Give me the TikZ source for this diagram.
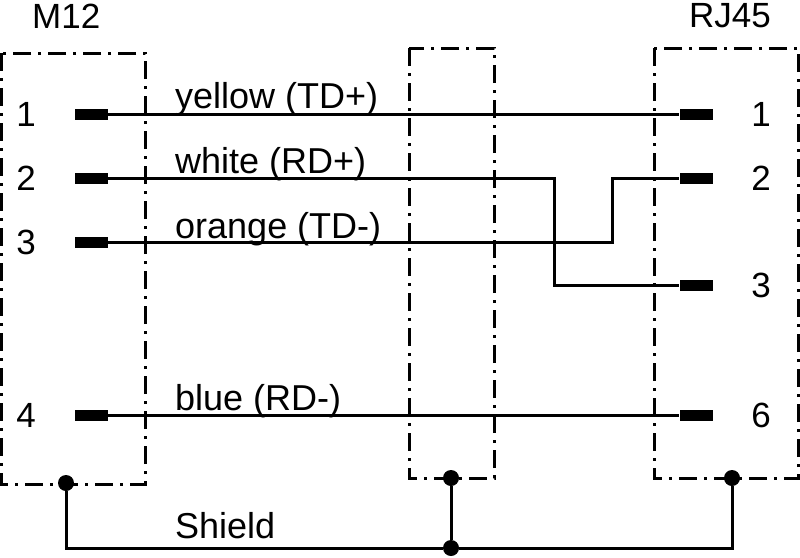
\documentclass[tikz,border=0pt]{standalone}
\usepackage{fontspec}
\setmainfont{Liberation Sans}
\newcommand{\myBox}[5]
{
    \draw[boxline] (#2,#3) rectangle (#4,#5);
    \coordinate (#1) at (#2,#3);
}
\tikzset{
    boxline/.style={line width=3pt, dash pattern=on 18pt off 7pt on 3pt off 7pt},
    wire/.style={line width=3pt, line join=miter},
    pad/.style={fill=black, minimum width=33pt, minimum height=11pt, inner sep=0pt},
    joint/.style={circle, fill=black, minimum size=16pt, inner sep=0pt},
    pin/.style={font=\fontsize{35}{40}\selectfont, inner sep=0pt},
    label/.style={font=\fontsize{36}{40}\selectfont, anchor=base west, inner sep=0pt}
}

\begin{document}
\begin{tikzpicture}[x=1pt, y=-1pt]

    \useasboundingbox (0,0) rectangle (800,557);

    %draws connector boxes
    \myBox{boxA}{1}{53}{145}{484};
    \myBox{boxB}{409}{48}{494}{478};
    \myBox{boxC}{654}{48}{798}{478};

    %draws left pads and numbers
    \foreach \n/\y in {1/114, 2/178, 3/242, 4/415}
    {
        \node[pad] (left\n) at (91,\y) {};
        \node[pin] (numleft\n) at (26,\y) {\n};
    }

    %draws right pads and numbers
    \foreach \n/\y in {1/114, 2/178, 3/285, 6/415}
    {
        \node[pad] (right\n) at (696,\y) {};
        \node[pin] (numright\n) at (761,\y) {\n};
    }

    %draws wires
    \coordinate (crossA) at (554,178);
    \coordinate (crossB) at (612,242);
    \draw[wire] (left1) -- (right1);
    \draw[wire] (left2) -- (crossA) |- (right3);
    \draw[wire] (left3) -- (crossB) |- (right2);
    \draw[wire] (left4) -- (right6);

    %draws shield
    \node[joint] (shieldA) at (66,483) {};
    \node[joint] (shieldB) at (451,478) {};
    \node[joint] (shieldC) at (732,478) {};
    \node[joint] (shieldD) at (451,548) {};
    \draw[wire] (shieldA) |- (shieldD);
    \draw[wire] (shieldB) -- (shieldD);
    \draw[wire] (shieldD) -| (shieldC);

    %draws labels
    \node[pin, anchor=base west] (m12) at (32,28) {M12};
    \node[pin, anchor=base west] (rj45) at (689,27) {RJ45};
    \node[label] (yellow) at (175,108) {yellow (TD+)};
    \node[label] (white) at (175,173) {white (RD+)};
    \node[label] (orange) at (175,238) {orange (TD-)};
    \node[label] (blue) at (175,410) {blue (RD-)};
    \node[label] (shield) at (175,538) {Shield};

\end{tikzpicture}
\end{document}
